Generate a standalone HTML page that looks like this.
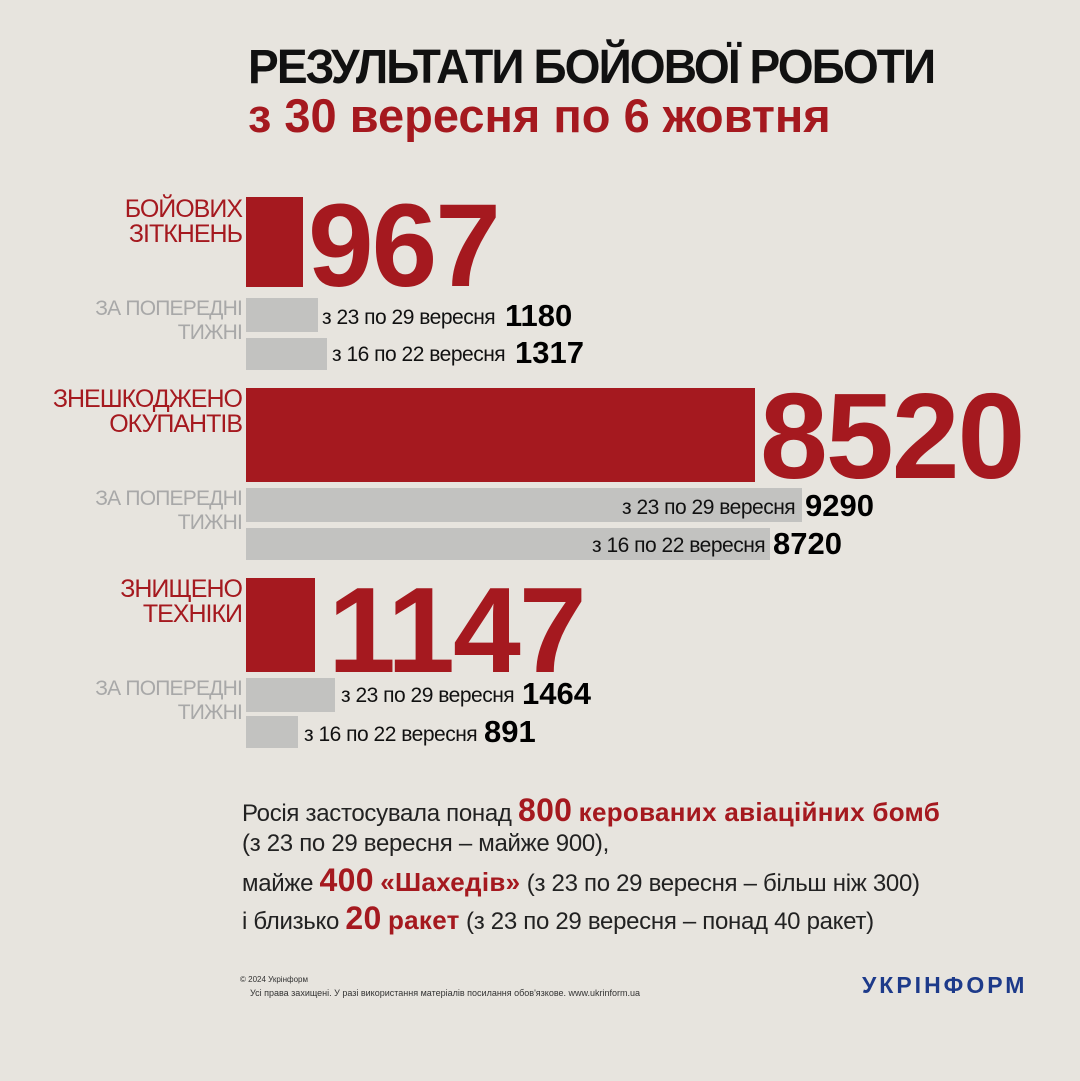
<!DOCTYPE html>
<html><head><meta charset="utf-8"><style>
body{margin:0;width:1080px;height:1081px;background:#e7e4de;position:relative;overflow:hidden;font-family:"Liberation Sans",sans-serif}
.a{position:absolute;white-space:nowrap}
.r{background:#a5191f;position:absolute}
.g{background:#c2c2c0;position:absolute}
.red{color:#a5191f}
.lab{position:absolute;right:838px;text-align:right;font-size:25px;line-height:25px;letter-spacing:-1px}
.gl{color:#a8a8a8;font-size:21px;line-height:24px;letter-spacing:-0.8px}
.big{font-weight:bold;color:#a5191f;letter-spacing:-2px}
.s{font-size:21px;color:#111;letter-spacing:-0.5px}
.n{font-weight:bold;font-size:31px;color:#000}
.t{font-size:24px;color:#222;letter-spacing:-0.3px}
.t b{font-size:26px;letter-spacing:0.3px}
.t b.k{font-size:32px}
</style></head><body>
<div class="a" style="left:248px;top:40px;font-size:48px;font-weight:bold;color:#111;letter-spacing:-2px;transform:scaleX(0.96);transform-origin:left">РЕЗУЛЬТАТИ БОЙОВОЇ РОБОТИ</div>
<div class="a red" style="left:248px;top:88px;font-size:47px;font-weight:bold;letter-spacing:0px">з 30 вересня по 6 жовтня</div>

<div class="lab red" style="top:197px">БОЙОВИХ<br>ЗІТКНЕНЬ</div>
<div class="r" style="left:246px;top:197px;width:57px;height:90px"></div>
<div class="a big" style="left:308px;top:178px;font-size:118px">967</div>
<div class="lab gl" style="top:297px">ЗА ПОПЕРЕДНІ<br>ТИЖНІ</div>
<div class="g" style="left:246px;top:298px;width:72px;height:34px"></div>
<div class="a s" style="left:322px;top:306px">з 23 по 29 вересня</div>
<div class="a n" style="left:505px;top:298px">1180</div>
<div class="g" style="left:246px;top:338px;width:81px;height:32px"></div>
<div class="a s" style="left:332px;top:343px">з 16 по 22 вересня</div>
<div class="a n" style="left:515px;top:335px">1317</div>

<div class="lab red" style="top:387px">ЗНЕШКОДЖЕНО<br>ОКУПАНТІВ</div>
<div class="r" style="left:246px;top:388px;width:509px;height:94px"></div>
<div class="a big" style="left:760px;top:366px;font-size:122px">8520</div>
<div class="lab gl" style="top:487px">ЗА ПОПЕРЕДНІ<br>ТИЖНІ</div>
<div class="g" style="left:246px;top:488px;width:556px;height:34px"></div>
<div class="a s" style="left:622px;top:496px">з 23 по 29 вересня</div>
<div class="a n" style="left:805px;top:488px">9290</div>
<div class="g" style="left:246px;top:528px;width:524px;height:32px"></div>
<div class="a s" style="left:592px;top:534px">з 16 по 22 вересня</div>
<div class="a n" style="left:773px;top:526px">8720</div>

<div class="lab red" style="top:577px">ЗНИЩЕНО<br>ТЕХНІКИ</div>
<div class="r" style="left:246px;top:578px;width:69px;height:94px"></div>
<div class="a big" style="left:328px;top:560px;font-size:122px">1147</div>
<div class="lab gl" style="top:677px">ЗА ПОПЕРЕДНІ<br>ТИЖНІ</div>
<div class="g" style="left:246px;top:678px;width:89px;height:34px"></div>
<div class="a s" style="left:341px;top:684px">з 23 по 29 вересня</div>
<div class="a n" style="left:522px;top:676px">1464</div>
<div class="g" style="left:246px;top:716px;width:52px;height:32px"></div>
<div class="a s" style="left:304px;top:723px">з 16 по 22 вересня</div>
<div class="a n" style="left:484px;top:714px">891</div>

<div class="a t" style="left:242px;top:792px">Росія застосувала понад <b class="red k">800</b> <b class="red">керованих авіаційних бомб</b></div>
<div class="a t" style="left:242px;top:830px">(з 23 по 29 вересня – майже 900),</div>
<div class="a t" style="left:242px;top:862px">майже <b class="red k">400</b> <b class="red">«Шахедів»</b> (з 23 по 29 вересня – більш ніж 300)</div>
<div class="a t" style="left:242px;top:900px">і близько <b class="red k">20</b> <b class="red">ракет</b> (з 23 по 29 вересня – понад 40 ракет)</div>

<div class="a" style="left:240px;top:975px;font-size:8px;color:#333">© 2024 Укрінформ</div>
<div class="a" style="left:250px;top:988px;font-size:9px;color:#333">Усі права захищені. У разі використання матеріалів посилання обов'язкове. www.ukrinform.ua</div>
<div class="a" style="left:862px;top:972px;font-size:23px;font-weight:bold;color:#1d3a8a;letter-spacing:3px">УКРІНФОРМ</div>
</body></html>
